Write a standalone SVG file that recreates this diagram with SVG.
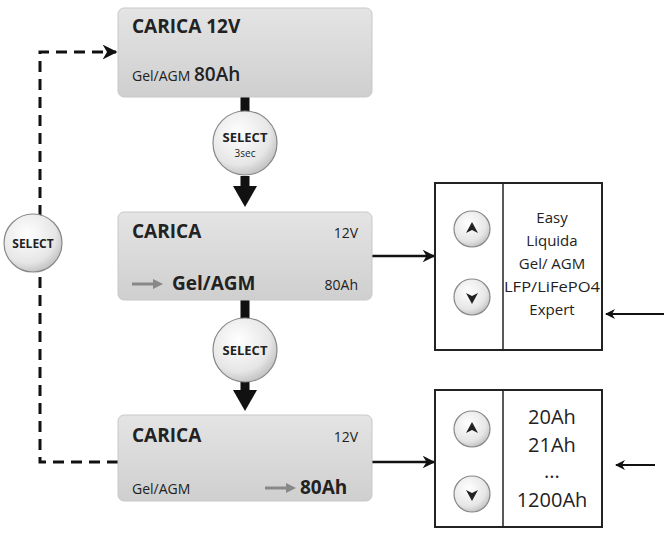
<svg xmlns="http://www.w3.org/2000/svg" width="668" height="537" viewBox="0 0 668 537">
<defs>
<linearGradient id="g" x1="0" y1="0" x2="0" y2="1"><stop offset="0" stop-color="#e4e4e4"/><stop offset="1" stop-color="#cfcfcf"/></linearGradient>
<radialGradient id="c" cx="0.4" cy="0.35" r="0.7"><stop offset="0" stop-color="#ffffff"/><stop offset="0.7" stop-color="#e6e6e6"/><stop offset="1" stop-color="#bdbdbd"/></radialGradient>
<marker id="ah" viewBox="0 0 10 10" refX="9" refY="5" markerWidth="5" markerHeight="5" orient="auto"><path d="M0,0 L10,5 L0,10 L3,5 z" fill="#111"/></marker>
</defs>
<style>
text{font-family:"Open Sans","DejaVu Sans",sans-serif;fill:#222}
.box{fill:url(#g);stroke:#c8c8c8;stroke-width:1}
.t{font-weight:bold;font-size:19px}
.s{font-size:14px}
.btn{fill:url(#c);stroke:#888;stroke-width:1.2}
.frame{fill:#fff;stroke:#222;stroke-width:2}
.lst{font-size:15px;text-anchor:middle}
.big{font-size:20px;text-anchor:middle}
</style>
<g id="connectors" fill="none" stroke="#111">
<path d="M245,97 V112" stroke-width="9"/>
<path d="M245,176 V188" stroke-width="9"/>
<path d="M233,186 L257,186 L245,207z" fill="#111" stroke="none"/>
<path d="M245,300 V318" stroke-width="9"/>
<path d="M245,382 V392" stroke-width="9"/>
<path d="M233,390 L257,390 L245,411z" fill="#111" stroke="none"/>
<path d="M118,462 H40 V52 H116" stroke-width="3" stroke-dasharray="11,7" marker-end="url(#ah)"/>
<path d="M372,256 H434" stroke-width="2.5" marker-end="url(#ah)"/>
<path d="M372,462 H434" stroke-width="2.5" marker-end="url(#ah)"/>
<path d="M664,314 H606" stroke-width="2" marker-end="url(#ah)"/>
<path d="M655,465 H616" stroke-width="2" marker-end="url(#ah)"/>
</g>
<g id="state1"><rect class="box" x="118" y="8" width="254" height="89" rx="6"/>
<text class="t" x="132" y="33">CARICA 12V</text>
<text x="132" y="81"><tspan class="s">Gel/AGM </tspan><tspan font-size="19px" font-weight="600">80Ah</tspan></text></g>
<g id="select3"><circle class="btn" cx="245" cy="143" r="32"/>
<text x="245" y="142" text-anchor="middle" font-size="13" font-weight="bold">SELECT</text>
<text x="245" y="157" text-anchor="middle" font-size="10">3sec</text></g>
<g id="state2"><rect class="box" x="118" y="212" width="254" height="88" rx="6"/>
<text class="t" x="132" y="238">CARICA</text>
<text class="s" x="358" y="238" text-anchor="end">12V</text>
<path d="M132,284 H155" stroke="#888" stroke-width="3"/><path d="M153,279 L163,284 L153,289z" fill="#888"/>
<text class="t" x="172" y="290">Gel/AGM</text>
<text class="s" x="358" y="290" text-anchor="end">80Ah</text></g>
<g id="select2"><circle class="btn" cx="245" cy="350" r="32"/>
<text x="245" y="355" text-anchor="middle" font-size="13" font-weight="bold">SELECT</text></g>
<g id="state3"><rect class="box" x="118" y="415" width="254" height="86" rx="6"/>
<text class="t" x="132" y="442">CARICA</text>
<text class="s" x="358" y="442" text-anchor="end">12V</text>
<text class="s" x="132" y="494">Gel/AGM</text>
<path d="M265,488 H288" stroke="#888" stroke-width="3"/><path d="M286,483 L296,488 L286,493z" fill="#888"/>
<text class="t" x="300" y="494">80Ah</text></g>
<g id="selectLoop"><circle class="btn" cx="33" cy="243" r="29"/>
<text x="33" y="248" text-anchor="middle" font-size="12" font-weight="bold">SELECT</text></g>
<g id="typeList"><rect class="frame" x="435" y="183" width="167" height="167"/>
<line x1="503" y1="183" x2="503" y2="350" stroke="#222" stroke-width="1.5"/>
<circle class="btn" cx="472" cy="229" r="18"/><path d="M466,233 L472,222 L478,233 L472,230z" fill="#222"/>
<circle class="btn" cx="472" cy="297" r="18"/><path d="M466,293 L472,304 L478,293 L472,296z" fill="#222"/>
<text class="lst" x="552" y="223">Easy</text>
<text class="lst" x="552" y="246">Liquida</text>
<text class="lst" x="552" y="269">Gel/ AGM</text>
<text class="lst" x="552" y="292" textLength="96" lengthAdjust="spacingAndGlyphs">LFP/LiFePO4</text>
<text class="lst" x="552" y="315">Expert</text></g>
<g id="capList"><rect class="frame" x="435" y="390" width="167" height="137"/>
<line x1="503" y1="390" x2="503" y2="527" stroke="#222" stroke-width="1.5"/>
<circle class="btn" cx="472" cy="429" r="18"/><path d="M466,433 L472,422 L478,433 L472,430z" fill="#222"/>
<circle class="btn" cx="472" cy="494" r="18"/><path d="M466,490 L472,501 L478,490 L472,493z" fill="#222"/>
<text class="big" x="552" y="424">20Ah</text>
<text class="big" x="552" y="452">21Ah</text>
<text class="big" x="552" y="478">...</text>
<text class="big" x="552" y="507">1200Ah</text></g>
</svg>
